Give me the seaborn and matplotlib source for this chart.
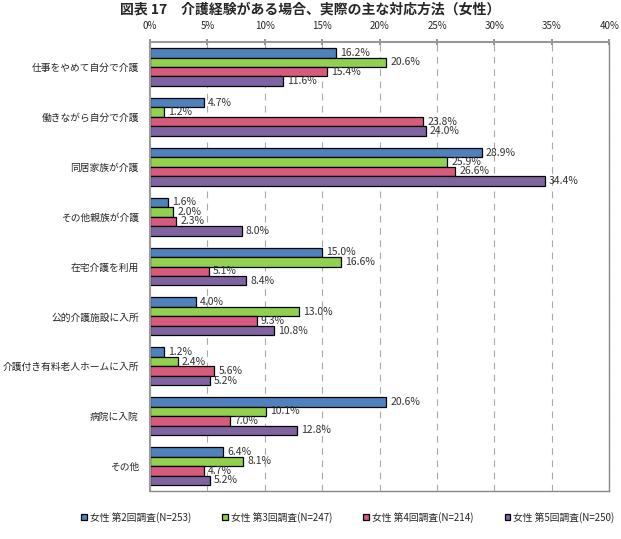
import pandas as pd
import matplotlib.pyplot as plt
import seaborn as sns

# chart data
categories = ['仕事をやめて自分で介護', '働きながら自分で介護', '同居家族が介護', 'その他親族が介護',
              '在宅介護を利用', '公的介護施設に入所', '介護付き有料老人ホームに入所', '病院に入院', 'その他']
series = ['女性 第2回調査(N=253)', '女性 第3回調査(N=247)', '女性 第4回調査(N=214)', '女性 第5回調査(N=250)']
survey2 = [16.2, 4.7, 28.9, 1.6, 15.0, 4.0, 1.2, 20.6, 6.4]
survey3 = [20.6, 1.2, 25.9, 2.0, 16.6, 13.0, 2.4, 10.1, 8.1]
survey4 = [15.4, 23.8, 26.6, 2.3, 5.1, 9.3, 5.6, 7.0, 4.7]
survey5 = [11.6, 24.0, 34.4, 8.0, 8.4, 10.8, 5.2, 12.8, 5.2]
colors = ['#4F81BD', '#92D050', '#D65B7C', '#8064A2']

sns.set_theme(style='white')
plt.rcParams['font.family'] = ['Noto Sans CJK JP', 'DejaVu Sans']

# long format for seaborn
df = pd.DataFrame({'category': categories * 4,
                   'series': [s for s in series for _ in categories],
                   'value': survey2 + survey3 + survey4 + survey5})

fig = plt.figure(figsize=(6.21, 5.39), dpi=100)
ax = fig.add_axes([0.2415, 0.089, 0.7395, 0.833])

sns.barplot(data=df, y='category', x='value', hue='series', order=categories,
            hue_order=series, palette=colors, saturation=1, orient='h', width=0.76,
            edgecolor='black', linewidth=0.9, ax=ax, legend=True)

# value labels
for cont in ax.containers:
    ax.bar_label(cont, labels=[f'{v:.1f}%' for v in cont.datavalues],
                 padding=3, fontsize=7.5, color='#333333')

ax.set_xlim(0, 40)
ax.set_xticks(range(0, 41, 5))
ax.set_xticklabels([f'{t}%' for t in range(0, 41, 5)], fontsize=7)
ax.xaxis.tick_top()
ax.tick_params(axis='x', length=4, color='#888888', pad=6, direction='inout')
ax.set_xlabel('')
ax.set_ylabel('')
ax.tick_params(axis='y', labelsize=7, length=0, pad=8)
ax.set_ylim(len(categories) - 0.5, -0.5)
ax.set_yticks(range(len(categories)))
ax.set_yticks([i + 0.5 for i in range(len(categories) - 1)], minor=True)
ax.tick_params(axis='y', which='minor', length=4, color='#888888', direction='inout')

ax.grid(axis='x', linestyle=(0, (6, 5)), color='#aaaaaa', linewidth=0.8)
ax.set_axisbelow(True)
for side in ['top', 'left']:
    ax.spines[side].set_color('#999999')
    ax.spines[side].set_linewidth(1.5)
for side in ['right', 'bottom']:
    ax.spines[side].set_color('#888888')
    ax.spines[side].set_linewidth(1.0)

# legend at bottom
handles, labels = ax.get_legend_handles_labels()
ax.get_legend().remove()
fig.legend(handles, labels, loc='center', bbox_to_anchor=(0.56, 0.04), ncol=4,
           frameon=False, fontsize=7, handlelength=0.6, handleheight=0.6,
           handletextpad=0.3, columnspacing=3.2)

# title
fig.text(0.5, 0.982, '図表 17　介護経験がある場合、実際の主な対応方法（女性）',
         ha='center', va='center', fontsize=10, fontweight='bold')

fig.savefig('out.png', dpi=100)
